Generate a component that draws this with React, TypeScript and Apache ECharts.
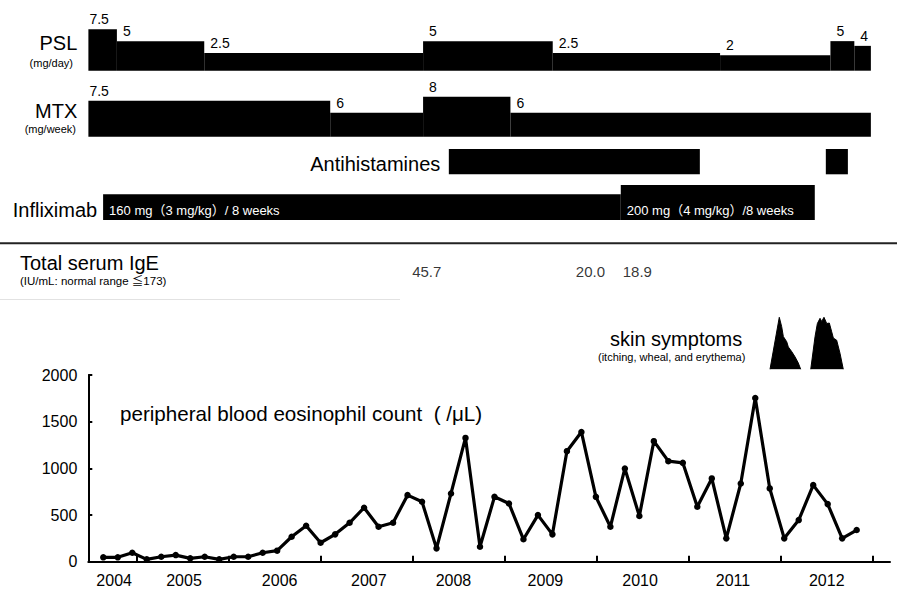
import React, { useEffect, useRef } from 'react';
import * as echarts from 'echarts';

const FONT = "'Liberation Sans', Arial, Helvetica, 'Noto Sans CJK JP', sans-serif";

// ---- time scale (years) ----
const YEAR_MIN = 2004.469;
const YEAR_MAX = 2013.188;
const yearTicks = [2005, 2006, 2007, 2008, 2009, 2010, 2011, 2012, 2013];
const yearLabels = ['2004', '2005', '2006', '2007', '2008', '2009', '2010', '2011', '2012'];
const yearLabelPos = [2004.75, 2005.51, 2006.55, 2007.52, 2008.44, 2009.44, 2010.47, 2011.48, 2012.5];

// ---- PSL (mg/day) ----
const pslBreaks = [2004.47, 2004.78, 2005.73, 2008.11, 2009.52, 2011.34, 2012.54, 2012.8, 2012.98];
const pslDose = [7.5, 5, 2.5, 5, 2.5, 2, 5, 4];

// ---- MTX (mg/week) ----
const mtxBreaks = [2004.47, 2007.1, 2008.11, 2009.06, 2012.98];
const mtxDose = [7.5, 6, 8, 6];

// ---- Antihistamines ----
const ahStart = [2008.39, 2012.49];
const ahEnd = [2011.12, 2012.73];

// ---- Infliximab ----
const ifxBreaks = [2004.63, 2010.26, 2012.37];
const ifxDose = [160, 200];
const ifxLabels = ['160 mg（3 mg/kg）/ 8 weeks', '200 mg（4 mg/kg）/8 weeks'];

// ---- Total serum IgE ----
const igeDates = [2008.15, 2009.93, 2010.44];
const igeValues = [45.7, 20.0, 18.9];

// ---- skin symptoms (relative severity) ----
const skin1X = [2011.883, 2011.984, 2012.01, 2012.028, 2012.065, 2012.082, 2012.119, 2012.155, 2012.191, 2012.217];
const skin1Y = [0, 100, 82, 63, 53, 43, 34, 24, 12, 0];
const skin2X = [2012.326, 2012.373, 2012.398, 2012.427, 2012.445, 2012.47, 2012.5, 2012.528, 2012.554, 2012.572, 2012.608, 2012.644, 2012.68];
const skin2Y = [0, 63, 88, 98, 92, 100, 88, 89, 72, 60, 56, 31, 0];

// ---- peripheral blood eosinophil count (/µL) ----
const eosinophilCounts = [
  47, 47, 96, 25, 53, 71, 36, 53, 25, 53, 53, 96, 118, 267, 385, 203, 293, 417, 578, 374,
  417, 713, 642, 143, 731, 1326, 160, 695, 624, 240, 499, 293, 1184, 1390, 695, 374, 999,
  489, 1291, 1077, 1059, 588, 892, 250, 838, 1754, 785, 250, 446, 820, 617, 250, 339,
];
const IDX_MIN = -1.035;
const IDX_MAX = 54.3;

const stepRenderer = (labels: string[], inside: boolean, fontSize: number) =>
  (params: any, api: any) => {
    const s = api.value(0);
    const e = api.value(1);
    const d = api.value(2);
    const cs = params.coordSys;
    const bottom = cs.y + cs.height;
    const p0 = api.coord([s, d]);
    const p1 = api.coord([e, d]);
    const children: any[] = [
      {
        type: 'rect',
        shape: { x: p0[0], y: p0[1], width: p1[0] - p0[0], height: bottom - p0[1] },
        style: { fill: '#000' },
      },
    ];
    const txt = labels[params.dataIndex];
    if (txt) {
      if (inside) {
        children.push({
          type: 'text',
          x: p0[0] + 6,
          y: bottom - 9.5,
          style: { text: txt, fill: '#fff', fontSize, fontFamily: FONT, align: 'left', verticalAlign: 'middle' },
        });
      } else {
        children.push({
          type: 'text',
          x: p0[0] + (params.dataIndex === 0 ? 1 : 6),
          y: p0[1] - 3,
          style: { text: txt, fill: '#000', fontSize, fontFamily: FONT, align: 'left', verticalAlign: 'bottom' },
        });
      }
    }
    return { type: 'group', children };
  };

const hiddenYear = (gridIndex: number) => ({
  type: 'value', gridIndex, min: YEAR_MIN, max: YEAR_MAX, show: false,
  splitLine: { show: false },
});

export default function App() {
  const ref = useRef<HTMLDivElement>(null);
  useEffect(() => {
    const chart = echarts.init(ref.current!, null, { renderer: 'svg' });
    const G = { left: 88.3, right: 7, containLabel: false, outerBoundsMode: 'none' };
    const option: any = {
      animation: false,
      backgroundColor: '#fff',
      textStyle: { fontFamily: FONT },
      grid: [
        { ...G, top: 375, bottom: 27.3 },
        { ...G, top: 23.4, height: 47.3 },
        { ...G, top: 92.7, height: 44 },
        { ...G, top: 149, height: 25.3 },
        { ...G, top: 185, height: 35 },
        { ...G, top: 261.7, height: 20 },
        { ...G, top: 317.3, height: 52 },
      ],
      xAxis: [
        {
          type: 'value', gridIndex: 0, min: YEAR_MIN, max: YEAR_MAX, position: 'bottom',
          axisLine: { show: true, onZero: false, lineStyle: { color: '#000', width: 2 } },
          axisTick: { show: true, inside: true, length: 6, customValues: yearTicks, lineStyle: { color: '#000', width: 2 } },
          axisLabel: {
            customValues: yearLabelPos,
            formatter: (v: number) => yearLabels[yearLabelPos.indexOf(v)] ?? String(Math.floor(v)),
            fontSize: 16, color: '#000', margin: 11, fontFamily: FONT,
          },
          splitLine: { show: false },
        },
        { type: 'value', gridIndex: 0, min: IDX_MIN, max: IDX_MAX, show: false, splitLine: { show: false } },
        hiddenYear(1), hiddenYear(2), hiddenYear(3), hiddenYear(4), hiddenYear(5), hiddenYear(6),
      ],
      yAxis: [
        {
          type: 'value', gridIndex: 0, min: 0, max: 2000, interval: 500,
          axisLine: { show: true, onZero: false, lineStyle: { color: '#000', width: 2 } },
          axisTick: { show: true, inside: true, length: 4, lineStyle: { color: '#000', width: 2 } },
          axisLabel: { fontSize: 16, color: '#000', margin: 11, fontFamily: FONT, formatter: (v: number) => String(v) },
          splitLine: { show: false },
        },
        { type: 'value', gridIndex: 1, min: -1.25, max: 8.75, show: false, splitLine: { show: false } },
        { type: 'value', gridIndex: 2, min: 3, max: 8.5, show: false, splitLine: { show: false } },
        { type: 'value', gridIndex: 3, min: 0, max: 1, show: false, splitLine: { show: false } },
        { type: 'value', gridIndex: 4, min: 50, max: 200, show: false, splitLine: { show: false } },
        { type: 'category', gridIndex: 5, data: ['IgE'], show: false },
        { type: 'value', gridIndex: 6, min: 0, max: 100, show: false, splitLine: { show: false } },
      ],
      series: [
        {
          type: 'line', xAxisIndex: 1, yAxisIndex: 0,
          data: eosinophilCounts.map((v, i) => [i, v]),
          symbol: 'circle', symbolSize: 6.5,
          lineStyle: { color: '#000', width: 3.2 },
          itemStyle: { color: '#000' },
          z: 3,
        },
        {
          type: 'custom', xAxisIndex: 2, yAxisIndex: 1,
          renderItem: stepRenderer(pslDose.map(String), false, 14),
          encode: { x: [0, 1], y: 2 },
          data: pslDose.map((d, i) => [pslBreaks[i], pslBreaks[i + 1], d]),
        },
        {
          type: 'custom', xAxisIndex: 3, yAxisIndex: 2,
          renderItem: stepRenderer(mtxDose.map(String), false, 14),
          encode: { x: [0, 1], y: 2 },
          data: mtxDose.map((d, i) => [mtxBreaks[i], mtxBreaks[i + 1], d]),
        },
        {
          type: 'custom', xAxisIndex: 4, yAxisIndex: 3,
          renderItem: stepRenderer([], false, 14),
          encode: { x: [0, 1], y: 2 },
          data: ahStart.map((s, i) => [s, ahEnd[i], 1]),
        },
        {
          type: 'custom', xAxisIndex: 5, yAxisIndex: 4,
          renderItem: stepRenderer(ifxLabels, true, 13),
          encode: { x: [0, 1], y: 2 },
          data: ifxDose.map((d, i) => [ifxBreaks[i], ifxBreaks[i + 1], d]),
        },
        {
          type: 'scatter', xAxisIndex: 6, yAxisIndex: 5,
          data: igeDates.map((d) => [d, 'IgE']),
          symbolSize: 1,
          itemStyle: { color: 'rgba(0,0,0,0)' },
          label: {
            show: true, position: 'inside', color: '#000', fontSize: 15, fontFamily: FONT,
            formatter: (p: any) => igeValues[p.dataIndex].toFixed(1),
          },
        },
        {
          type: 'line', xAxisIndex: 7, yAxisIndex: 6,
          data: skin1X.map((x, i) => [x, skin1Y[i]]),
          symbol: 'none', lineStyle: { color: '#000', width: 1 },
          areaStyle: { color: '#000', opacity: 1 },
        },
        {
          type: 'line', xAxisIndex: 7, yAxisIndex: 6,
          data: skin2X.map((x, i) => [x, skin2Y[i]]),
          symbol: 'none', lineStyle: { color: '#000', width: 1 },
          areaStyle: { color: '#000', opacity: 1 },
        },
      ],
      graphic: [
        { type: 'line', shape: { x1: 0, y1: 243.3, x2: 897, y2: 243.3 }, style: { stroke: '#222', lineWidth: 2 } },
        { type: 'line', shape: { x1: 0, y1: 299.5, x2: 400, y2: 299.5 }, style: { stroke: '#e2e2e2', lineWidth: 1 } },
        { type: 'text', x: 77.3, y: 42.5, style: { text: 'PSL', fontSize: 20, fontFamily: FONT, fill: '#000', align: 'right', verticalAlign: 'middle' } },
        { type: 'text', x: 73, y: 62.7, style: { text: '(mg/day)', fontSize: 11, fontFamily: FONT, fill: '#000', align: 'right', verticalAlign: 'middle' } },
        { type: 'text', x: 77.3, y: 110.5, style: { text: 'MTX', fontSize: 20, fontFamily: FONT, fill: '#000', align: 'right', verticalAlign: 'middle' } },
        { type: 'text', x: 76, y: 129, style: { text: '(mg/week)', fontSize: 11, fontFamily: FONT, fill: '#000', align: 'right', verticalAlign: 'middle' } },
        { type: 'text', x: 440.3, y: 164.2, style: { text: 'Antihistamines', fontSize: 20, fontFamily: FONT, fill: '#000', align: 'right', verticalAlign: 'middle' } },
        { type: 'text', x: 97.2, y: 210.3, style: { text: 'Infliximab', fontSize: 20, fontFamily: FONT, fill: '#000', align: 'right', verticalAlign: 'middle' } },
        { type: 'text', x: 20, y: 263, style: { text: 'Total serum IgE', fontSize: 20, fontFamily: FONT, fill: '#000', align: 'left', verticalAlign: 'middle' } },
        { type: 'text', x: 20, y: 281.2, style: { text: '(IU/mL: normal range ≦173)', fontSize: 11.5, fontFamily: FONT, fill: '#000', align: 'left', verticalAlign: 'middle' } },
        { type: 'text', x: 610, y: 338.5, style: { text: 'skin symptoms', fontSize: 20, fontFamily: FONT, fill: '#000', align: 'left', verticalAlign: 'middle' } },
        { type: 'text', x: 598, y: 357, style: { text: '(itching, wheal, and erythema)', fontSize: 11, fontFamily: FONT, fill: '#000', align: 'left', verticalAlign: 'middle' } },
        { type: 'text', x: 120, y: 413.3, style: { text: 'peripheral blood eosinophil count  ( /μL)', fontSize: 20.6, fontFamily: FONT, fill: '#000', align: 'left', verticalAlign: 'middle' } },
      ],
    };
    chart.setOption(option);
    return () => chart.dispose();
  }, []);
  return <div ref={ref} style={{ position: 'fixed', left: 0, top: 0, width: 897, height: 589 }} />;
}
